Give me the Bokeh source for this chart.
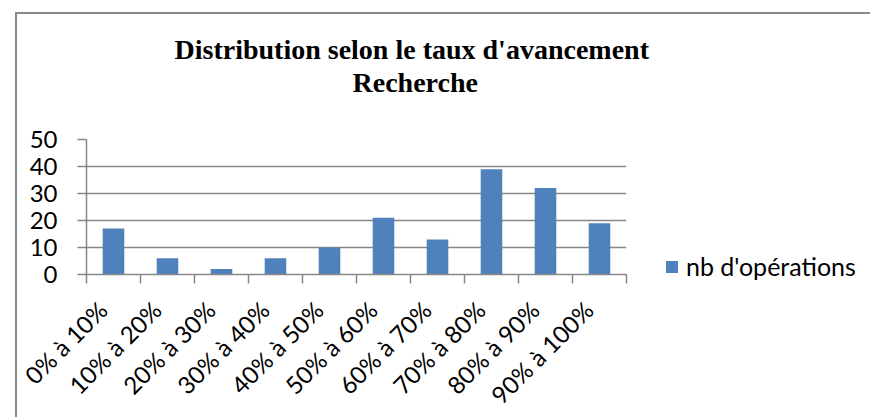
import numpy as np
from bokeh.plotting import figure
from bokeh.models import (FixedTicker, Title, Legend, LegendItem, Range1d,
                          ColumnDataSource)
from bokeh.embed import file_html
from bokeh.resources import INLINE

categories = ["0% à 10%", "10% à 20%", "20% à 30%", "30% à 40%", "40% à 50%",
              "50% à 60%", "60% à 70%", "70% à 80%", "80% à 90%", "90% à 100%"]
values = [17, 6, 2, 6, 10, 21, 13, 39, 32, 19]
y_ticks = [0, 10, 20, 30, 40, 50]
series_name = "nb d'opérations"
title_lines = ["Distribution selon le taux d'avancement", "Recherche"]

GRAY = "#878787"
BLUE = "#4F81BD"
FONT = "Lato"

n = len(categories)
centers = [i + 0.5 for i in range(n)]
label_pos = [c - 0.2 for c in centers]   # rotated labels end near the category centre
src = ColumnDataSource(dict(x=centers, top=values, cat=categories))

p = figure(width=851, height=399, frame_width=540, frame_height=135,
           x_range=Range1d(0, n), y_range=Range1d(0, 50),
           output_backend="svg", toolbar_location=None,
           min_border_left=69, min_border_top=125,
           min_border_right=242, min_border_bottom=139)
p.margin = (12, 0, 0, 15)
p.styles = {"border-width": "2px 0px 0px 2px", "border-style": "solid",
            "border-color": "#898989"}
p.outline_line_color = None
p.background_fill_color = "white"
p.border_fill_color = "white"

r = p.vbar(x="x", top="top", width=0.4, bottom=0, source=src,
           fill_color=BLUE, line_color=None)

# x axis
xa = p.xaxis[0]
xa.ticker = FixedTicker(ticks=label_pos, minor_ticks=list(range(n + 1)))
xa.major_label_overrides = {c: lab for c, lab in zip(label_pos, categories)}
xa.major_label_orientation = np.pi / 4
xa.major_tick_out = 0
xa.major_tick_in = 0
xa.minor_tick_out = 9
xa.minor_tick_in = 0
xa.minor_tick_line_color = GRAY
xa.minor_tick_line_width = 1.5
xa.axis_line_color = GRAY
xa.axis_line_width = 1.5
xa.major_label_text_font = FONT
xa.major_label_text_font_size = "24px"
xa.major_label_text_color = "black"
xa.major_label_standoff = 22

# y axis
ya = p.yaxis[0]
ya.ticker = FixedTicker(ticks=y_ticks, minor_ticks=[])
ya.major_tick_out = 9
ya.major_tick_in = 0
ya.major_tick_line_color = GRAY
ya.major_tick_line_width = 1.5
ya.axis_line_color = GRAY
ya.axis_line_width = 1.5
ya.major_label_text_font = FONT
ya.major_label_text_font_size = "24px"
ya.major_label_text_color = "black"
ya.major_label_standoff = 20

p.xgrid.visible = False
p.ygrid.ticker = FixedTicker(ticks=y_ticks)
p.ygrid.grid_line_color = GRAY
p.ygrid.grid_line_width = 1.5

# title: spacer nearest the frame, then second line, then first line
p.add_layout(Title(text=" ", standoff=29, text_font_size="10px"), "above")
for txt, off in [(title_lines[1], 266), (title_lines[0], 88)]:
    p.add_layout(Title(text=txt, align="left", offset=off, standoff=0,
                       text_font="Liberation Serif", text_font_style="bold",
                       text_font_size="28px", text_color="black"), "above")

legend = Legend(items=[LegendItem(label=series_name, renderers=[r])],
                location=(38, -7), padding=0, margin=0, spacing=0,
                glyph_width=15, glyph_height=15, label_standoff=7,
                border_line_color=None, background_fill_alpha=0,
                label_text_font=FONT, label_text_font_size="25px",
                label_text_color="black")
p.add_layout(legend, "right")

open("out.html", "w").write(file_html(p, INLINE))
